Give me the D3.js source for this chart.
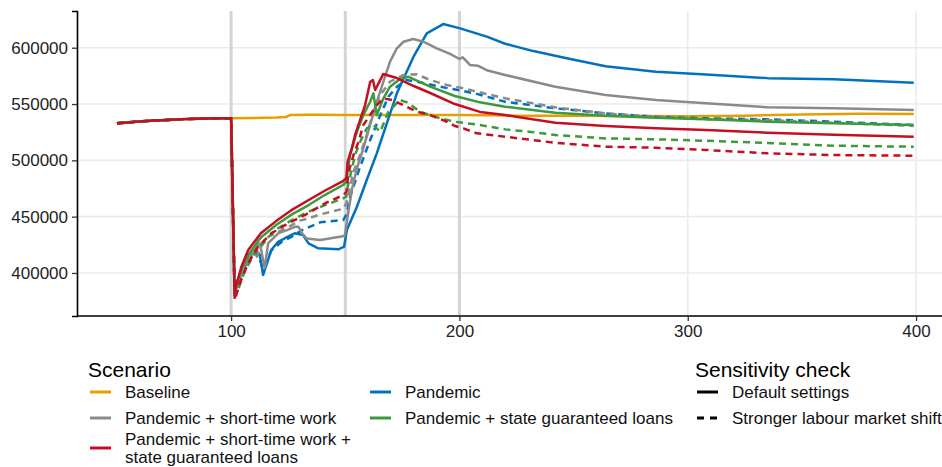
<!DOCTYPE html>
<html>
<head>
<meta charset="utf-8">
<script src="https://cdn.jsdelivr.net/npm/d3@7"></script>
<style>
  html, body { margin: 0; padding: 0; background: #fff; }
  svg { display: block; font-family: "Liberation Sans", Arial, sans-serif; }
</style>
</head>
<body>
<div id="chart"></div>
<script>
// values: [period, value]
// common path before the shock (all scenarios overlap here)
var preShock = [[50,532900],[55,533700],[60,534600],[65,535200],[72,535900],[79,536600],[86,537000],[93,537300],[100,537400]];

var baseline = [[110,537600],[120,538000],[124,538400],[126,540300],[135,540400],[150,540300],[175,540300],[200,540200],
  [225,539700],[250,539600],[275,539300],[300,539100],[325,539600],[350,540700],[375,541400],[399,541100]];

var pandemic = [[101.5,384000],[104.5,400000],[107.5,412000],[110.5,421000],[112.6,415900],[114,398200],[115.2,405500],
  [117.6,420400],[120.6,427700],[124.9,432200],[127.9,435200],[131.5,433700],[133.9,426300],[138.2,421900],[147,421000],
  [149.5,423300],[150.7,438100],[155.1,458800],[159.4,482500],[163.8,506200],[168.2,532900],[172.6,559500],[179.9,592000],
  [185.7,612800],[192.9,621000],[200.3,617200],[212,609800],[220,603500],[232.4,597000],[247,590600],[264,583500],
  [286,578700],[308,576200],[335,573000],[364,571900],[399,568900]];
var pandemicShift = [[101.5,382000],[104.5,399000],[107.5,411000],[110.5,420000],[112.6,411500],[114,404000],[115.6,411000],
  [117.6,420000],[122.2,427700],[126.6,432200],[131,438000],[139,445000],[149.2,447000],[150.5,452000],[152.1,467700],
  [156.5,494300],[160.9,518000],[165.3,540000],[168.9,556500],[172.6,565400],[176.9,571300],[181.3,569800],[191.5,565400],
  [201.7,561500],[207.6,559000],[220,552000],[242,546200],[264,541700],[286,538700],[308,537300],[335,536400],
  [364,534300],[399,531300]];

var shortTime = [[101.5,384000],[104.5,401000],[107.5,413000],[110.5,422000],[112.6,426300],[114.7,404100],[116.2,426300],
  [120.6,435200],[124.5,438100],[127.9,441000],[129.5,441000],[131.5,434000],[133.1,430700],[139,429200],[147.7,432200],
  [149.8,433000],[151.4,455000],[153,475000],[155.1,492900],[157.9,510700],[160.9,531400],[163.8,552000],[166.7,569800],
  [169.6,587600],[172.6,599500],[175.5,605300],[179.8,607700],[184.2,605300],[190.1,599500],[195.9,594500],[200,590000],
  [201.5,591500],[204.7,584600],[208,584000],[212,580000],[220,575800],[242,565400],[264,558000],[286,553600],
  [308,550600],[335,547100],[364,546200],[399,544700]];
var shortTimeShift = [[101.5,380000],[104.5,398000],[107.5,410000],[110,421000],[111.3,414400],[113,423000],[116.4,432200],
  [122.2,438100],[126.6,442500],[130,446500],[133.9,448500],[139,452000],[149.2,457000],[150.5,462000],[153.6,489900],
  [156.5,504700],[159.4,522500],[162.3,543200],[165.3,558000],[169.6,569800],[175.5,575800],[181.3,576400],[187.2,571300],
  [194.5,566900],[201.7,564000],[207.6,561000],[220,555100],[242,547100],[264,541700],[286,538700],[308,536400],
  [335,535800],[364,533400],[399,530500]];

var loans = [[101.5,386000],[104.5,403000],[107.5,416000],[113,431500],[120,443000],[127,452500],[134,460300],[141,469200],
  [149,478100],[150.5,481000],[151,490000],[152.1,504700],[155.1,525400],[157.9,540200],[160.9,552000],[162.3,559500],
  [163.8,540200],[166.7,555100],[169.6,565400],[174,572200],[177.7,574200],[187.2,565400],[198,557100],[209,551500],
  [220,547600],[242,542300],[264,539600],[286,537800],[308,536400],[335,534300],[364,532900],[399,531400]];
var loansShift = [[101.6,380000],[103.2,386000],[106.1,402600],[111.9,421900],[119.3,438100],[126.6,447000],[133.9,454400],
  [141.2,460300],[149.2,466300],[150.5,468000],[151.2,478000],[154.3,504700],[156.5,516500],[159.4,528400],[162.3,531400],
  [165.3,525400],[168.9,543200],[174,553600],[177,551500],[182.8,543200],[191.5,537300],[198,534300],[209,531400],
  [220,527500],[232.3,525000],[242,522500],[264,519500],[286,518700],[308,517400],[335,515400],[364,513000],[399,512100]];

var shortTimeLoans = [[101.5,383300],[104.5,405500],[107.5,420400],[113,435200],[120,446500],[127,456500],[134,464800],
  [141,473000],[149,481500],[150.5,484300],[151,498500],[152.9,510900],[154.3,522500],[157.2,540200],[158.7,549100],
  [160.9,569500],[162.1,571300],[163.1,562400],[166.6,576600],[172.6,573100],[180,566000],[187.2,559800],[198,550000],
  [209,543000],[220,540200],[242,533400],[264,530500],[286,528400],[308,526900],[335,524500],[364,522800],[399,521000]];
var shortTimeLoansShift = [[101.6,376000],[103.8,390800],[107.4,408500],[111.8,423300],[117.6,435200],[125,444100],
  [132.3,451400],[141.2,461900],[149.2,469200],[150.5,472000],[151.5,490000],[153.6,504700],[155.8,516500],[157.9,531400],
  [160.9,540200],[163.8,549100],[166.7,555100],[170.4,553600],[175.4,549100],[181.3,543200],[187.2,540200],[194.5,534300],
  [198,530500],[201.7,528400],[207.6,524000],[220,521000],[242,515600],[264,512100],[286,511200],[308,509200],
  [335,506200],[364,504700],[399,504100]];

var scenarioNames = ["Baseline", "Pandemic", "Pandemic + short-time work", "Pandemic + state guaranteed loans",
  "Pandemic + short-time work + state guaranteed loans"];
var scenarioColors = ["#E69F00", "#0072BD", "#8A8A8A", "#3C9A3A", "#C40F22"];
var sensitivityNames = ["Default settings", "Stronger labour market shift"];
var policyDates = [100, 150, 200];
var xTicks = [100, 200, 300, 400];
var yTicks = [400000, 450000, 500000, 550000, 600000];

var width = 942, height = 467;
var svg = d3.select("#chart").append("svg")
  .attr("width", width)
  .attr("height", height);

// ggplot style 5% expansion, panel runs out past the right edge
var x = d3.scaleLinear().domain([32.5, 417.5]).range([77, 956]);
var y = d3.scaleLinear().domain([361800, 632600]).range([316, 11]);

var grid = svg.append("g");
grid.selectAll(".gy").data(yTicks).enter().append("line")
  .attr("x1", 77).attr("x2", width)
  .attr("y1", function(d) { return y(d); }).attr("y2", function(d) { return y(d); })
  .attr("stroke", "#ebebeb").attr("stroke-width", 1.6);
grid.selectAll(".gx").data(xTicks).enter().append("line")
  .attr("x1", function(d) { return x(d); }).attr("x2", function(d) { return x(d); })
  .attr("y1", 11).attr("y2", 316)
  .attr("stroke", "#ebebeb").attr("stroke-width", 1.6);

// policy dates
grid.selectAll(".pd").data(policyDates).enter().append("line")
  .attr("x1", function(d) { return x(d); }).attr("x2", function(d) { return x(d); })
  .attr("y1", 11).attr("y2", 316)
  .attr("stroke", "#d4d4d4").attr("stroke-width", 3);

// series: scenario index, sensitivity index, values
var series = [
  { s: 0, k: 0, v: baseline },
  { s: 1, k: 0, v: pandemic }, { s: 1, k: 1, v: pandemicShift },
  { s: 2, k: 0, v: shortTime }, { s: 2, k: 1, v: shortTimeShift },
  { s: 3, k: 0, v: loans }, { s: 3, k: 1, v: loansShift },
  { s: 4, k: 0, v: shortTimeLoans }, { s: 4, k: 1, v: shortTimeLoansShift }
];

var line = d3.line()
  .x(function(d) { return x(d[0]); })
  .y(function(d) { return y(d[1]); });

svg.append("g").selectAll("path").data(series).enter().append("path")
  .attr("d", function(d) { return line(preShock.concat(d.v)); })
  .attr("fill", "none")
  .attr("stroke", function(d) { return scenarioColors[d.s]; })
  .attr("stroke-width", 2.5)
  .attr("stroke-linejoin", "round")
  .attr("stroke-dasharray", function(d) { return d.k ? "7,5" : null; });

// axes
var xAxis = svg.append("g").attr("transform", "translate(0,316)")
  .call(d3.axisBottom(x).tickValues(xTicks).tickSize(5).tickPadding(4));
var yAxis = svg.append("g").attr("transform", "translate(77,0)")
  .call(d3.axisLeft(y).tickValues(yTicks).tickSize(5).tickPadding(4).tickFormat(d3.format("d")));
[xAxis, yAxis].forEach(function(a) {
  a.select(".domain").attr("stroke", "#000").attr("stroke-width", 1.6);
  a.selectAll(".tick line").attr("stroke", "#333").attr("stroke-width", 1.3);
  a.selectAll("text").attr("fill", "#222").style("font-size", "17px")
    .style("font-family", "'Liberation Sans', Arial, sans-serif");
});
xAxis.select(".domain").attr("d", "M77,0H" + width);

// legends
var leg = svg.append("g");
leg.append("text").attr("x", 88).attr("y", 377).text("Scenario")
  .style("font-size", "21px").attr("fill", "#000");

var legendSlots = [
  { s: 0, kx: 90, ky: 392, lines: ["Baseline"], ty: 398 },
  { s: 1, kx: 370, ky: 392, lines: ["Pandemic"], ty: 398 },
  { s: 2, kx: 90, ky: 418, lines: ["Pandemic + short-time work"], ty: 424 },
  { s: 3, kx: 370, ky: 418, lines: ["Pandemic + state guaranteed loans"], ty: 424 },
  { s: 4, kx: 90, ky: 448, lines: ["Pandemic + short-time work +", "state guaranteed loans"], ty: 445 }
];
legendSlots.forEach(function(d) {
  leg.append("line").attr("x1", d.kx).attr("x2", d.kx + 21)
    .attr("y1", d.ky).attr("y2", d.ky)
    .attr("stroke", scenarioColors[d.s]).attr("stroke-width", 3);
  d.lines.forEach(function(l, i) {
    leg.append("text").attr("x", d.kx + 35).attr("y", d.ty + i * 18)
      .style("font-size", "17px").attr("fill", "#111").text(l);
  });
});

leg.append("text").attr("x", 695).attr("y", 377).text("Sensitivity check")
  .style("font-size", "21px").attr("fill", "#000");
sensitivityNames.forEach(function(n, i) {
  var ky = 392 + i * 26;
  leg.append("line").attr("x1", 697).attr("x2", 718)
    .attr("y1", ky).attr("y2", ky)
    .attr("stroke", "#000").attr("stroke-width", 3)
    .attr("stroke-dasharray", i ? "7,6" : null);
  leg.append("text").attr("x", 732).attr("y", ky + 6).text(n)
    .style("font-size", "17px").attr("fill", "#111");
});
</script>
</body>
</html>
